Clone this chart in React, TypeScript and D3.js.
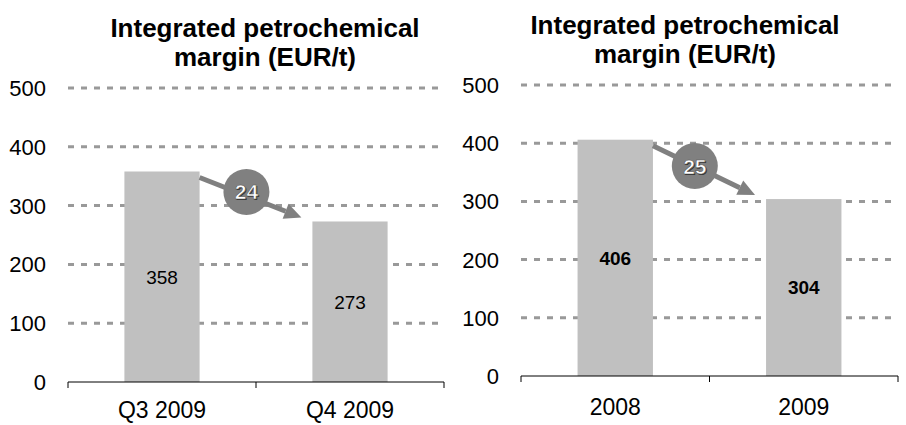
import React from 'react';
import * as d3 from 'd3';

const titleLines = ['Integrated petrochemical', 'margin (EUR/t)'];
const yTicks = [0, 100, 200, 300, 400, 500];

const quarterCats = ['Q3 2009', 'Q4 2009'];
const quarterVals = [358, 273];
const quarterChange = '24';

const yearCats = ['2008', '2009'];
const yearVals = [406, 304];
const yearChange = '25';

const FONT = "'Liberation Sans', Arial, sans-serif";

type PanelProps = {
  cats: string[];
  vals: number[];
  change: string;
  boldValues: boolean;
  x0: number;
  x1: number;
  yBase: number;
  yTop: number;
  titleX: number;
  titleY: number;
  badgeT: number;
  badgeDy: number;
};

const Panel = ({ cats, vals, change, boldValues, x0, x1, yBase, yTop, titleX, titleY, badgeT, badgeDy }: PanelProps) => {
  const x = d3.scaleBand().domain(cats).range([x0, x1]).paddingInner(0.6).paddingOuter(0.3);
  const y = d3.scaleLinear().domain([0, 500]).range([yBase, yTop]);
  const bw = x.bandwidth();

  // arrow from the top-right of the first bar to just before the second one
  const sx = x(cats[0])! + bw;
  const sy = y(vals[0]) + 6;
  const ex = x(cats[1])! - 11;
  const ey = y(vals[1]) - 4;
  const ang = Math.atan2(ey - sy, ex - sx);
  const headLen = 17;
  const headW = 8;
  const bx = ex - headLen * Math.cos(ang);
  const by = ey - headLen * Math.sin(ang);
  const nx = -Math.sin(ang);
  const ny = Math.cos(ang);
  const head = [
    [ex, ey],
    [bx + nx * headW, by + ny * headW],
    [bx - nx * headW, by - ny * headW],
  ];
  const cx = sx + (ex - sx) * badgeT;
  const cy = sy + (ey - sy) * badgeT + badgeDy;

  const boundaries = [x0, (x0 + x1) / 2, x1];

  return (
    <g style={{ fontFamily: FONT }}>
      <text x={titleX} y={titleY} textAnchor="middle" fontSize={26} fontWeight="bold" fill="#000">
        <tspan x={titleX}>{titleLines[0]}</tspan>
        <tspan x={titleX} dy={29}>{titleLines[1]}</tspan>
      </text>

      {yTicks.filter((t) => t > 0).map((t) => (
        <line key={'g' + t} x1={x0} x2={x1} y1={y(t)} y2={y(t)} stroke="#999" strokeWidth={3} strokeDasharray="6,7" />
      ))}
      {yTicks.map((t) => (
        <text key={'t' + t} x={x0 - 22} y={y(t)} dy="0.36em" textAnchor="end" fontSize={22} fill="#000">
          {t}
        </text>
      ))}

      {cats.map((c, i) => (
        <rect key={c} x={x(c)} y={y(vals[i])} width={bw} height={yBase - y(vals[i])} fill="#c0c0c0" />
      ))}
      {cats.map((c, i) => (
        <text
          key={'v' + c}
          x={x(c)! + bw / 2}
          y={(y(vals[i]) + yBase) / 2}
          dy="0.36em"
          textAnchor="middle"
          fontSize={19}
          fontWeight={boldValues ? 'bold' : 'normal'}
          fill="#000"
        >
          {vals[i]}
        </text>
      ))}

      <line x1={x0} x2={x1} y1={yBase} y2={yBase} stroke="#000" strokeWidth={1} />
      {boundaries.map((b) => (
        <line key={'k' + b} x1={b} x2={b} y1={yBase} y2={yBase + 6} stroke="#000" strokeWidth={1} />
      ))}
      {cats.map((c) => (
        <text key={'x' + c} x={x(c)! + bw / 2} y={Math.min(yBase + 39, 418)} textAnchor="middle" fontSize={23} fill="#000">
          {c}
        </text>
      ))}

      <line x1={sx} y1={sy} x2={bx} y2={by} stroke="#808080" strokeWidth={5} />
      <polygon points={head.map((p) => p.join(',')).join(' ')} fill="#808080" />
      <circle cx={cx} cy={cy} r={23} fill="#808080" />
      <text x={cx + 1} y={cy + 1} dy="0.36em" textAnchor="middle" fontSize={21} fontWeight="bold" fill="#333">
        {change}
      </text>
      <text x={cx} y={cy} dy="0.36em" textAnchor="middle" fontSize={21} fontWeight="bold" fill="#fff" stroke="#555" strokeWidth={0.6}>
        {change}
      </text>
    </g>
  );
};

export default function App() {
  return (
    <svg width={906} height={425} style={{ position: 'absolute', left: 0, top: 0 }}>
      <rect width={906} height={425} fill="#fff" />
      <Panel
        cats={quarterCats}
        vals={quarterVals}
        change={quarterChange}
        boldValues={false}
        x0={68}
        x1={444}
        yBase={382}
        yTop={88}
        titleX={265}
        titleY={37}
        badgeT={0.46}
        badgeDy={-4}
      />
      <Panel
        cats={yearCats}
        vals={yearVals}
        change={yearChange}
        boldValues={true}
        x0={521}
        x1={898}
        yBase={376}
        yTop={85}
        titleX={685}
        titleY={34}
        badgeT={0.41}
        badgeDy={0}
      />
    </svg>
  );
}
